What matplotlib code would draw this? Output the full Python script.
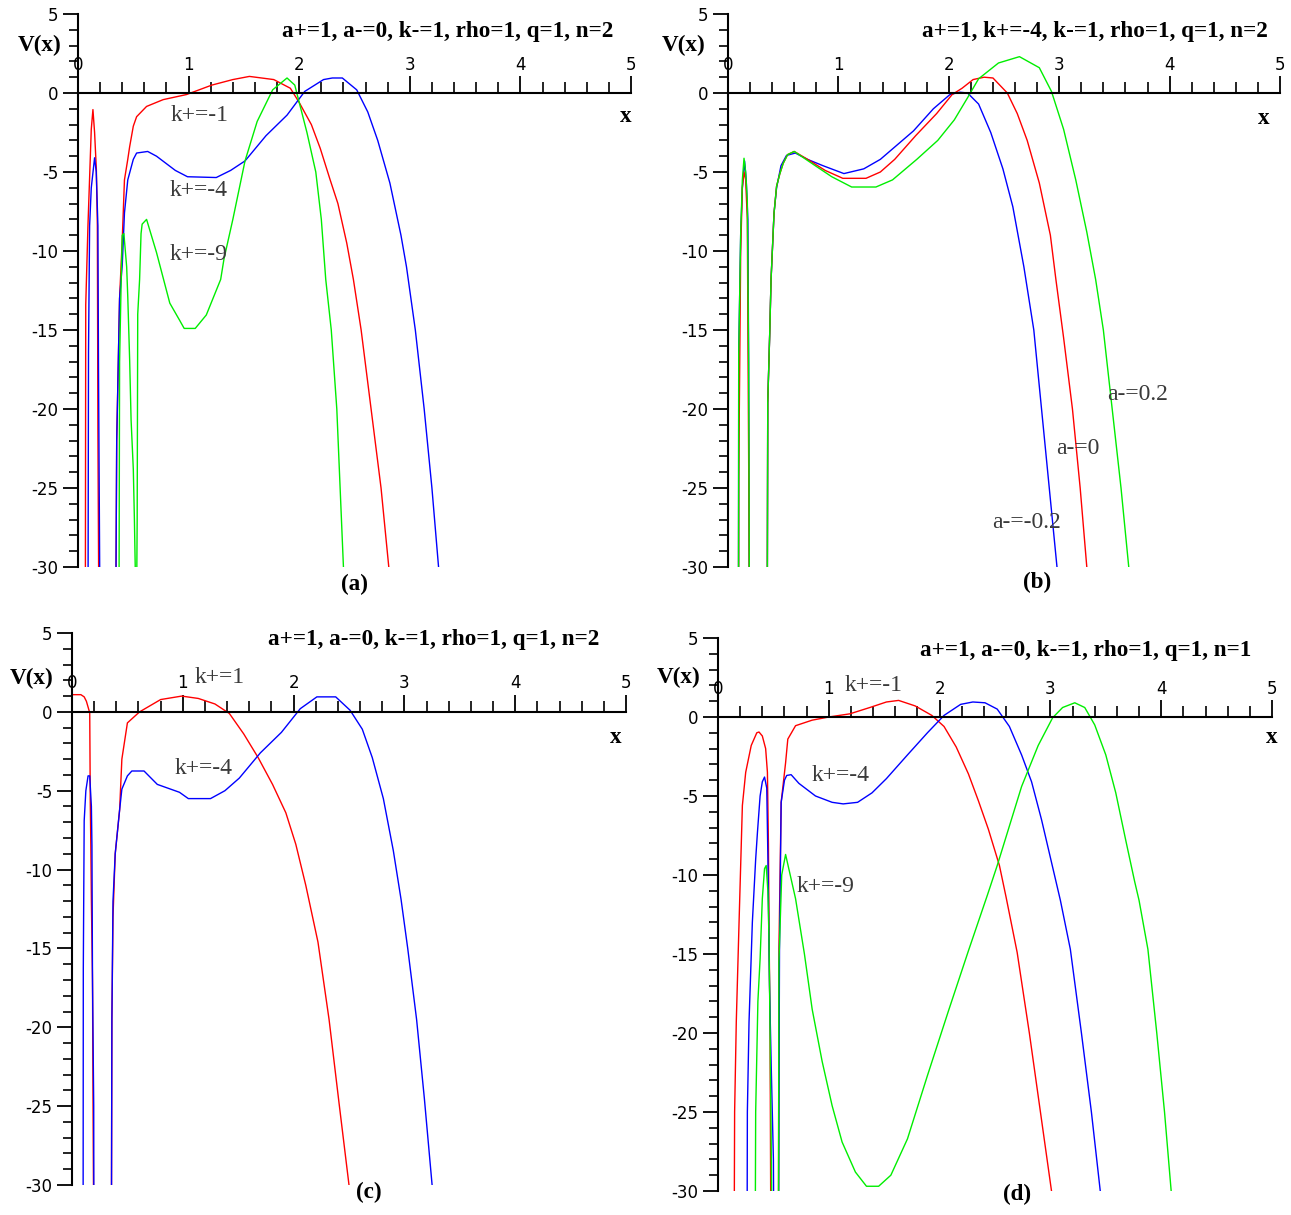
import numpy as np
import matplotlib
matplotlib.use("Agg")
import matplotlib.pyplot as plt

plt.rcParams["axes.unicode_minus"] = False

nan = np.nan

# ---- panel (a): a+=1, a-=0, k-=1, rho=1, q=1, n=2 ----
a_red_x = [0.066, 0.07, 0.09, 0.12, 0.135, 0.15, 0.166, 0.175, 0.18, 0.19, nan,
           0.34, 0.35, 0.376, 0.40, 0.42, 0.45, 0.467, 0.50, 0.53, 0.62, 0.77,
           0.98, 1.21, 1.40, 1.55, 1.77, 1.92, 2.00, 2.11, 2.19, 2.28, 2.35,
           2.43, 2.49, 2.56, 2.65, 2.74, 2.81, 2.83]
a_red_y = [-35, -13.4, -8.4, -2.3, -1.05, -2.5, -4.85, -8.4, -21.3, -35, nan,
           -35, -22, -13, -9.3, -5.5, -4.2, -3.4, -2.1, -1.5, -0.85, -0.42,
           -0.1, 0.5, 0.85, 1.05, 0.85, 0.3, -0.6, -2, -3.5, -5.5, -7,
           -9.5, -11.8, -15, -20, -25, -30, -31]
a_blue_x = [0.09, 0.095, 0.105, 0.12, 0.15, 0.165, 0.18, 0.185, 0.196, 0.2, nan,
            0.34, 0.35, 0.376, 0.40, 0.42, 0.45, 0.50, 0.53, 0.63, 0.71, 0.88,
            0.99, 1.25, 1.38, 1.51, 1.70, 1.89, 2.05, 2.22, 2.30, 2.39, 2.52,
            2.62, 2.71, 2.82, 2.92, 2.97, 3.05, 3.13, 3.20, 3.26, 3.27]
a_blue_y = [-35, -16.4, -8.4, -6, -4.1, -5, -8.4, -17, -30, -35, nan,
            -35, -22, -13, -10.9, -7.6, -5.5, -4.2, -3.8, -3.7, -4.0, -4.9,
            -5.3, -5.35, -4.9, -4.3, -2.7, -1.4, 0.1, 0.85, 0.95, 0.95, 0.2,
            -1.2, -3, -5.7, -9, -11.0, -15, -20, -25, -30, -31]
a_green_x = [0.37, 0.376, 0.39, 0.40, 0.415, 0.44, 0.45, 0.467, 0.48, 0.50,
             0.51, 0.52, 0.527, 0.535, 0.54, 0.557, 0.57, 0.58, 0.62, 0.71,
             0.83, 0.92, 0.96, 1.06, 1.16, 1.29, 1.32, 1.40, 1.51, 1.62, 1.76,
             1.89, 1.96, 2.07, 2.15, 2.20, 2.24, 2.29, 2.34, 2.37, 2.40, 2.41]
a_green_y = [-35, -17, -12, -9, -8.9, -11, -12.9, -16.9, -20.7, -23.8,
             -27, -31, -35, -27, -14, -11.8, -8.9, -8.3, -8.0, -10.1,
             -13.3, -14.4, -14.9, -14.9, -14.05, -11.8, -10.5, -8, -4.3, -1.8, 0.2,
             0.95, 0.5, -2.5, -5, -8, -11.8, -15, -20, -25, -30, -31]

# ---- panel (b): a+=1, k+=-4, k-=1, rho=1, q=1, n=2 ----
b_blue_x = [0.095, 0.097, 0.115, 0.13, 0.15, 0.165, 0.18, 0.187, 0.195, nan,
            0.355, 0.36, 0.378, 0.39, 0.417, 0.44, 0.48, 0.53, 0.61, 0.72, 0.86,
            1.05, 1.23, 1.38, 1.53, 1.68, 1.86, 2.01, 2.10, 2.17, 2.27, 2.38,
            2.49, 2.58, 2.68, 2.77, 2.84, 2.91, 2.98, 2.99]
b_blue_y = [-35, -16.5, -8.9, -6, -4.3, -5.5, -8, -17, -35, nan,
            -35, -19.6, -15.2, -11.8, -7.6, -6.0, -4.6, -3.95, -3.8, -4.2, -4.6,
            -5.1, -4.8, -4.2, -3.3, -2.4, -1.0, -0.1, 0.05, 0.0, -0.7, -2.5,
            -4.8, -7.2, -11.0, -15, -20, -25, -30, -31]
b_red_x = [0.095, 0.097, 0.115, 0.13, 0.145, 0.16, 0.175, 0.187, 0.195, nan,
           0.355, 0.36, 0.378, 0.39, 0.417, 0.44, 0.47, 0.50, 0.54, 0.60, 0.72,
           0.88, 1.04, 1.25, 1.38, 1.51, 1.70, 1.89, 2.03, 2.12, 2.22, 2.32,
           2.40, 2.53, 2.62, 2.71, 2.82, 2.92, 2.97, 3.04, 3.12, 3.19, 3.25, 3.26]
b_red_y = [-35, -24.5, -10, -6, -5, -5.5, -8, -23, -35, nan,
           -35, -19.6, -15.2, -11.8, -7.6, -5.9, -5.1, -4.45, -3.9, -3.7, -4.2,
           -4.9, -5.4, -5.4, -5.0, -4.2, -2.7, -1.3, -0.1, 0.3, 0.85, 1.0,
           0.95, 0.0, -1.3, -3, -5.7, -9, -11.8, -15.5, -20, -25, -30, -31]
b_green_x = [0.095, 0.097, 0.115, 0.13, 0.145, 0.16, 0.175, 0.187, 0.195, nan,
             0.355, 0.36, 0.378, 0.39, 0.417, 0.44, 0.47, 0.50, 0.54, 0.60, 0.79,
             0.94, 1.12, 1.34, 1.49, 1.71, 1.90, 2.05, 2.17, 2.27, 2.45, 2.64,
             2.82, 2.93, 3.04, 3.15, 3.25, 3.33, 3.40, 3.48, 3.56, 3.63, 3.64]
b_green_y = [-35, -16.5, -8.9, -5.5, -4.13, -5, -6.8, -17.1, -35, nan,
             -35, -19.6, -15.2, -11.8, -7.6, -5.9, -5.1, -4.45, -3.9, -3.7, -4.6,
             -5.3, -5.95, -5.95, -5.5, -4.2, -3.0, -1.7, -0.3, 0.9, 1.9, 2.3,
             1.6, 0.1, -2.3, -5.5, -8.8, -11.8, -15, -20, -25, -30, -31]

# ---- panel (c): a+=1, a-=0, k-=1, rho=1, q=1, n=2 ----
c_red_x = [0.0, 0.08, 0.11, 0.13, 0.16, 0.165, 0.17, 0.175, 0.18, 0.185,
           0.19, 0.196, 0.2, nan,
           0.355, 0.36, 0.37, 0.39, 0.41, 0.43, 0.45, 0.50, 0.61, 0.80, 0.99,
           1.14, 1.29, 1.42, 1.55, 1.68, 1.81, 1.93, 2.02, 2.11, 2.22, 2.32,
           2.41, 2.50, 2.51]
c_red_y = [1.09, 1.09, 0.95, 0.67, -0.06, -5.7, -8.5, -12, -14.5, -17,
           -25, -33, -35, nan,
           -35, -19.5, -13, -9, -7.6, -6.2, -3, -0.7, 0, 0.78, 1.0,
           0.85, 0.5, -0.1, -1.4, -2.9, -4.6, -6.4, -8.4, -11.0, -14.6, -19.5,
           -24.8, -30, -31]
c_blue_x = [0.10, 0.102, 0.11, 0.125, 0.145, 0.16, 0.175, 0.18, 0.185, 0.196,
            0.198, nan,
            0.355, 0.36, 0.37, 0.39, 0.41, 0.43, 0.45, 0.50, 0.54, 0.65, 0.77,
            0.97, 1.05, 1.25, 1.38, 1.51, 1.70, 1.89, 2.06, 2.21, 2.38, 2.51,
            2.62, 2.71, 2.81, 2.90, 2.97, 3.03, 3.11, 3.18, 3.25, 3.26]
c_blue_y = [-35, -16.3, -6.9, -5, -4.06, -4.06, -6, -8.5, -17, -25,
            -35, nan,
            -35, -19.5, -12, -9, -7.6, -6.2, -4.9, -4.06, -3.75, -3.75, -4.6,
            -5.1, -5.5, -5.5, -5.0, -4.2, -2.6, -1.3, 0.2, 0.95, 0.95, 0.1,
            -1.1, -2.9, -5.5, -8.8, -11.9, -15, -19.5, -24.5, -30, -31]

# ---- panel (d): a+=1, a-=0, k-=1, rho=1, q=1, n=1 ----
d_red_x = [0.145, 0.15, 0.165, 0.19, 0.22, 0.25, 0.30, 0.35, 0.37, 0.40,
           0.43, 0.446, 0.455, 0.46, 0.47, 0.478, nan,
           0.545, 0.55, 0.57, 0.61, 0.63, 0.70, 0.85, 1.00, 1.19, 1.37, 1.52,
           1.63, 1.78, 1.93, 2.04, 2.15, 2.26, 2.35, 2.44, 2.54, 2.60, 2.70,
           2.81, 2.91, 3.01, 3.02]
d_red_y = [-35, -25, -19.3, -13, -5.6, -3.5, -1.8, -1.0, -0.95, -1.2,
           -2.0, -3.5, -8, -13, -20, -35, nan,
           -35, -14.7, -5.4, -2.9, -1.4, -0.55, -0.2, 0, 0.2, 0.6, 0.95,
           1.05, 0.7, 0.1, -0.6, -1.9, -3.6, -5.3, -7.1, -9.4, -11.4, -14.9,
           -20, -25, -30, -31]
d_blue_x = [0.262, 0.265, 0.28, 0.31, 0.34, 0.356, 0.38, 0.40, 0.42, 0.44,
            0.45, 0.465, 0.48, 0.50, 0.505, nan,
            0.545, 0.555, 0.57, 0.60, 0.62, 0.66, 0.73, 0.88, 1.03, 1.13, 1.26,
            1.39, 1.52, 1.71, 1.89, 2.04, 2.19, 2.30, 2.41, 2.52, 2.63, 2.74,
            2.83, 2.92, 3.02, 3.09, 3.18, 3.28, 3.37, 3.45, 3.46]
d_blue_y = [-35, -25, -19.3, -13, -9, -7.3, -5, -4.1, -3.8, -4.5,
            -8.75, -17, -22, -28, -35, nan,
            -35, -14.7, -5.4, -4.0, -3.7, -3.65, -4.2, -5.0, -5.4, -5.5, -5.4,
            -4.8, -3.9, -2.4, -1.0, 0.1, 0.8, 0.95, 0.9, 0.5, -0.6, -2.4,
            -4.1, -6.5, -9.5, -11.6, -14.7, -20, -25, -30, -31]
d_green_x = [0.335, 0.34, 0.36, 0.38, 0.40, 0.42, 0.435, 0.45, 0.46, 0.47,
             0.48, 0.49, nan,
             0.545, 0.55, 0.575, 0.61, 0.70, 0.78, 0.85, 0.94, 1.03, 1.12, 1.24,
             1.34, 1.45, 1.56, 1.71, 1.89, 2.08, 2.26, 2.43, 2.52, 2.63, 2.74,
             2.89, 3.02, 3.11, 3.22, 3.31, 3.40, 3.50, 3.59, 3.68, 3.76, 3.80,
             3.88, 3.96, 4.03, 4.09, 4.10]
d_green_y = [-35, -25, -18, -15.3, -11.5, -9.6, -9.4, -11, -14, -20,
             -27, -35, nan,
             -35, -15.5, -10, -8.7, -11.5, -15, -18.5, -21.8, -24.6, -26.9, -28.8,
             -29.7, -29.7, -29, -26.7, -22.7, -18.6, -14.8, -11.3, -9.4, -6.9,
             -4.4, -1.8, -0.05, 0.6, 0.9, 0.6, -0.5, -2.4, -4.8, -7.8, -10.4,
             -11.6, -14.7, -20, -25, -30, -31]

RED, BLUE, GREEN = "#ff0000", "#0000ff", "#00ee00"
SERIF = ["Liberation Serif", "DejaVu Serif"]
W, H = 1291, 1215

fig = plt.figure(figsize=(W / 100, H / 100), dpi=100)


def make_axes(left, right, top, bottom):
    ax = fig.add_axes([left / W, 1 - bottom / H, (right - left) / W, (bottom - top) / H])
    ax.set_xlim(0, 5)
    ax.set_ylim(-30, 5)
    ax.patch.set_alpha(0)
    for s in ("top", "right"):
        ax.spines[s].set_visible(False)
    ax.spines["bottom"].set_position(("data", 0))
    ax.spines["bottom"].set_linewidth(1.5)
    ax.spines["left"].set_linewidth(1.5)
    ax.set_xticks(range(6))
    ax.set_xticks(np.arange(0, 5.01, 0.2), minor=True)
    ax.set_yticks(range(-30, 6, 5))
    ax.set_yticks(range(-30, 6), minor=True)
    ax.tick_params(axis="x", which="major", direction="in", length=12, width=1.3,
                   pad=-27, labelsize=12)
    ax.tick_params(axis="x", which="minor", direction="in", length=8, width=1.2)
    ax.tick_params(axis="y", which="major", direction="out", length=11, width=1.3,
                   pad=3, labelsize=12)
    ax.tick_params(axis="y", which="minor", direction="out", length=6.3, width=1.2)
    return ax


def decorate(ax, title, title_xy, vx_xy, x_xy, label, label_xy):
    bold = dict(family=SERIF, fontweight="bold", fontsize=16.7, clip_on=False)
    ax.text(title_xy[0], title_xy[1], title, ha="right", va="center", **bold)
    ax.text(vx_xy[0], vx_xy[1], "V(x)", ha="right", va="center", **bold)
    ax.text(x_xy[0], x_xy[1], "x", ha="center", va="center", **bold)
    ax.text(label_xy[0], label_xy[1], label, ha="center", va="center", **bold)


def note(ax, x, y, s):
    ax.text(x, y, s, ha="center", va="center", family=SERIF, fontsize=17,
            color="#3a3a3a")


# (a)
ax = make_axes(78, 631, 14, 567)
ax.plot(a_red_x, a_red_y, color=RED, lw=1.0)
ax.plot(a_blue_x, a_blue_y, color=BLUE, lw=1.0)
ax.plot(a_green_x, a_green_y, color=GREEN, lw=1.0)
decorate(ax, "a+=1, a-=0, k-=1, rho=1, q=1, n=2", (4.84, 3.9), (-0.15, 3.0),
         (4.955, -1.5), "(a)", (2.5, -31.1))
note(ax, 1.1, -1.42, "k+=-1")
note(ax, 1.09, -6.2, "k+=-4")
note(ax, 1.09, -10.2, "k+=-9")

# (b)
ax = make_axes(728, 1280, 14, 567)
ax.plot(b_blue_x, b_blue_y, color=BLUE, lw=1.0)
ax.plot(b_red_x, b_red_y, color=RED, lw=1.0)
ax.plot(b_green_x, b_green_y, color=GREEN, lw=1.0)
decorate(ax, "a+=1, k+=-4, k-=1, rho=1, q=1, n=2", (4.89, 3.9), (-0.2, 3.0),
         (4.85, -1.6), "(b)", (2.8, -30.95))
note(ax, 3.71, -19.1, "a-=0.2")
note(ax, 3.17, -22.5, "a-=0")
note(ax, 2.70, -27.2, "a-=-0.2")

# (c)
ax = make_axes(72, 626, 633, 1185)
ax.plot(c_red_x, c_red_y, color=RED, lw=1.0)
ax.plot(c_blue_x, c_blue_y, color=BLUE, lw=1.0)
decorate(ax, "a+=1, a-=0, k-=1, rho=1, q=1, n=2", (4.76, 4.6), (-0.17, 2.1),
         (4.91, -1.6), "(c)", (2.68, -30.5))
note(ax, 1.33, 2.18, "k+=1")
note(ax, 1.19, -3.6, "k+=-4")

# (d)
ax = make_axes(718, 1272, 638, 1191)
ax.plot(d_red_x, d_red_y, color=RED, lw=1.0)
ax.plot(d_blue_x, d_blue_y, color=BLUE, lw=1.0)
ax.plot(d_green_x, d_green_y, color=GREEN, lw=1.0)
decorate(ax, "a+=1, a-=0, k-=1, rho=1, q=1, n=1", (4.81, 4.2), (-0.16, 2.5),
         (5.0, -1.3), "(d)", (2.7, -30.2))
note(ax, 1.40, 1.97, "k+=-1")
note(ax, 1.11, -3.7, "k+=-4")
note(ax, 0.97, -10.74, "k+=-9")

fig.savefig("out.png", dpi=100)
